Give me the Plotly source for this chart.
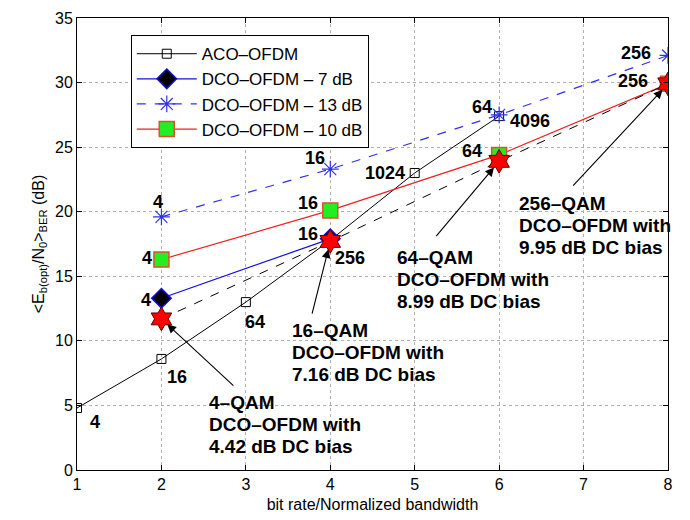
import plotly.graph_objects as go

# ---- data ----
aco_x = [1, 2, 3, 4, 5, 6]
aco_y = [4.8, 8.6, 13.0, 17.8, 23.0, 27.4]
aco_lbl = ["4", "16", "64", "256", "1024", "4096"]

dco7_x = [2, 4]
dco7_y = [13.3, 17.9]
dco7_lbl = ["4", "16"]

dco13_x = [2, 4, 6, 8]
dco13_y = [19.6, 23.3, 27.5, 32.1]
dco13_lbl = ["4", "16", "64", "256"]

dco10_x = [2, 4, 6, 8]
dco10_y = [16.3, 20.1, 24.4, 29.9]
dco10_lbl = ["4", "16", "64", "256"]

opt_x = [2, 4, 6, 8]
opt_y = [11.7, 17.7, 23.9, 29.9]
opt_lines = [["4–QAM", "DCO–OFDM with", "4.42 dB DC bias"],
             ["16–QAM", "DCO–OFDM with", "7.16 dB DC bias"],
             ["64–QAM", "DCO–OFDM with", "8.99 dB DC bias"],
             ["256–QAM", "DCO–OFDM with", "9.95 dB DC bias"]]
# first text line left/middle and arrow tail (data coords)
opt_text_pos = [(2.54, 5.19), (3.52, 10.84), (4.77, 16.42), (6.21, 20.67)]
opt_tail = [(2.87, 6.43), (3.78, 12.0), (5.24, 18.0), (6.86, 21.9)]

FONT = "Liberation Sans, Arial, sans-serif"

fig = go.Figure()

fig.add_trace(go.Scatter(x=aco_x, y=aco_y, mode="lines+markers", name="ACO–OFDM",
                         line=dict(color="black", width=1),
                         marker=dict(symbol="square-open", size=9, color="black",
                                     line=dict(width=1))))
fig.add_trace(go.Scatter(x=dco7_x, y=dco7_y, mode="lines+markers", name="DCO–OFDM – 7 dB",
                         line=dict(color="#1010e0", width=1.2),
                         marker=dict(symbol="diamond", size=15, color="black",
                                     line=dict(color="#1010e0", width=1.5))))
fig.add_trace(go.Scatter(x=dco13_x, y=dco13_y, mode="lines+markers", name="DCO–OFDM – 13 dB",
                         line=dict(color="#3030f0", width=1.2, dash="dash"),
                         marker=dict(symbol="asterisk-open", size=14, color="#3030f0",
                                     line=dict(color="#3030f0", width=1.2))))
fig.add_trace(go.Scatter(x=dco10_x, y=dco10_y, mode="lines+markers", name="DCO–OFDM – 10 dB",
                         line=dict(color="#ee2020", width=1.2),
                         marker=dict(symbol="square", size=15, color="#22ee22",
                                     line=dict(color="#e05030", width=1.5))))
fig.add_trace(go.Scatter(x=opt_x, y=opt_y, mode="lines+markers", name="optimum",
                         showlegend=False,
                         line=dict(color="black", width=1, dash="dash"),
                         marker=dict(symbol="hexagram", size=18, color="#ff0000",
                                     line=dict(color="#600000", width=1))))

ann = []
lblfont = dict(family=FONT, size=18, color="black")

def lab(x, y, t, xs, ys):
    ann.append(dict(x=x, y=y, text="<b>%s</b>" % t, showarrow=False, xref="x", yref="y",
                    xshift=xs, yshift=ys, font=lblfont))

aco_off = [(18, -14), (16, -18), (9, -20), (20, -18), (-30, 0), (31, -5)]
for x, y, t, (xs, ys) in zip(aco_x, aco_y, aco_lbl, aco_off):
    lab(x, y, t, xs, ys)
for x, y, t, (xs, ys) in zip(dco7_x, dco7_y, dco7_lbl, [(-15, -2), (-22, 5)]):
    lab(x, y, t, xs, ys)
for x, y, t, (xs, ys) in zip(dco13_x, dco13_y, dco13_lbl, [(-3, 15), (-15, 11), (-17, 8), (-32, 2)]):
    lab(x, y, t, xs, ys)
for x, y, t, (xs, ys) in zip(dco10_x, dco10_y, dco10_lbl, [(-14, 2), (-22, 7), (-27, 4), (-35, 3)]):
    lab(x, y, t, xs, ys)

for (hx, hy), (tx, ty), (px, py), lines in zip(zip(opt_x, opt_y), opt_tail, opt_text_pos, opt_lines):
    ann.append(dict(x=hx, y=hy, ax=tx, ay=ty, xref="x", yref="y", axref="x", ayref="y",
                    text="", showarrow=True, arrowhead=2, arrowsize=1.6, arrowwidth=1.1,
                    arrowcolor="black", standoff=8))
    for i, ln in enumerate(lines):
        ann.append(dict(x=px, y=py, xref="x", yref="y", text="<b>%s</b>" % ln, showarrow=False,
                        xanchor="left", yanchor="middle", align="left", yshift=-22 * i,
                        font=dict(family=FONT, size=19, color="black")))

# page body has an 8px default margin, so the figure is 8px smaller each way
fig.update_layout(
    width=682, height=512,
    margin=dict(l=69, r=22, t=10, b=50),
    paper_bgcolor="white", plot_bgcolor="white",
    font=dict(family=FONT, size=16, color="black"),
    annotations=ann,
    legend=dict(x=0.091, y=0.962, xanchor="left", yanchor="top",
                bgcolor="white", bordercolor="black", borderwidth=1,
                font=dict(family=FONT, size=17), tracegroupgap=0, itemwidth=60),
)
fig.update_xaxes(range=[1, 8], dtick=1, showgrid=True, gridcolor="#b0b0b0",
                 griddash="dot", gridwidth=1, showline=True, linecolor="black",
                 mirror="ticks", ticks="inside", ticklen=5, tickcolor="black",
                 zeroline=False, automargin=False,
                 title=dict(text="bit rate/Normalized bandwidth", font=dict(size=16), standoff=6),
                 tickfont=dict(size=16))
fig.update_yaxes(range=[0, 35], dtick=5, showgrid=True, gridcolor="#b0b0b0",
                 griddash="dot", gridwidth=1, showline=True, linecolor="black",
                 mirror="ticks", ticks="inside", ticklen=5, tickcolor="black",
                 zeroline=False, automargin=False,
                 title=dict(text="<E<sub>b(opt)</sub>/N<sub>0</sub>><sub>BER</sub> (dB)",
                            font=dict(size=16), standoff=6),
                 tickfont=dict(size=16))

fig.write_html("out.html")
